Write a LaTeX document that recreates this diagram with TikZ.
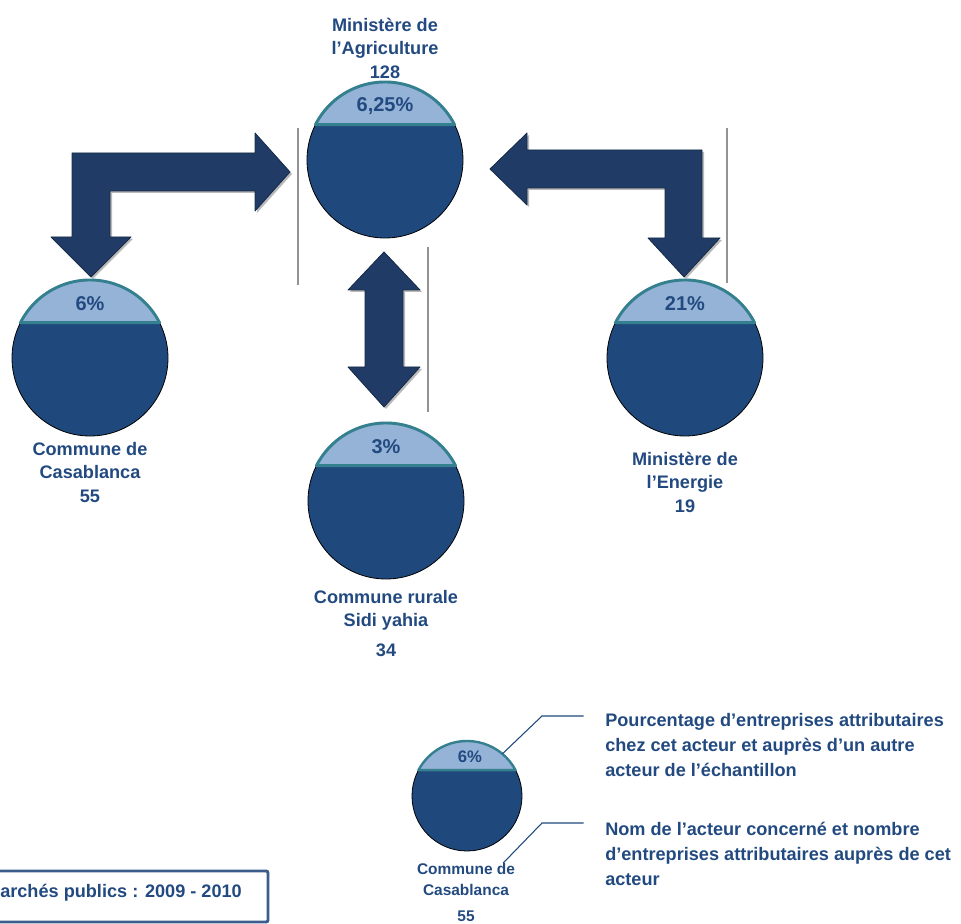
\documentclass[tikz,border=0pt]{standalone}
\usepackage{fontspec}
\setmainfont{Liberation Sans}
\usetikzlibrary{shadows}
\definecolor{bleufonce}{RGB}{31,73,125}
\definecolor{bleuclair}{RGB}{149,179,215}
\definecolor{sarcelle}{RGB}{52,128,142}
\definecolor{marine}{RGB}{32,60,102}
\definecolor{texte}{RGB}{34,74,128}
\definecolor{cadrebleu}{RGB}{60,92,140}
\begin{document}
\begin{tikzpicture}[x=0.75pt,y=0.75pt]
  \tikzstyle{disque}=[circle, draw=black, line width=0.6pt, fill=bleufonce,
  outer sep=0pt, inner sep=0pt, minimum size=117pt]
  \tikzstyle{calotte}=[fill=bleuclair, draw=sarcelle, line width=2.2pt, line join=round]
  \tikzstyle{pourcent}=[font=\bfseries\fontsize{15}{18}\selectfont, text=texte, inner sep=0pt]
  \tikzstyle{etiquette}=[font=\bfseries\fontsize{13.6}{17.5}\selectfont, text=texte,
  align=center, inner sep=0pt, anchor=north]
  \tikzstyle{legende}=[font=\bfseries\fontsize{13.6}{18.75}\selectfont, text=texte,
  align=left, inner sep=0pt, anchor=north west]
  \tikzstyle{fleche3d}=[fill=marine, draw=marine!70!black, line width=0.6pt, line join=round,
  drop shadow={opacity=0.55, shadow xshift=1.5pt, shadow yshift=-1.5pt}]
  \tikzstyle{separateur}=[draw=gray!85, line width=1.1pt]
  \tikzstyle{renvoi}=[draw=bleufonce, line width=0.8pt]
  \useasboundingbox (0,0) rectangle (961,924);

  % grandes fleches
  \fill[fleche3d] (72,771) -- (255,771) -- (255,791) -- (290,752) -- (255,713) -- (255,733)
  -- (110,733) -- (110,687) -- (131,687) -- (91,647) -- (51,687) -- (72,687) -- cycle;
  \fill[fleche3d] (490,755) -- (527,791) -- (527,774) -- (702,774) -- (702,686) -- (720,686)
  -- (684,647) -- (648,686) -- (665,686) -- (665,736) -- (527,736) -- (527,719) -- cycle;
  \fill[fleche3d] (384,672) -- (420,634) -- (403,634) -- (403,557) -- (420,557) -- (384,517)
  -- (348,557) -- (365,557) -- (365,634) -- (348,634) -- cycle;
  \foreach \x/\a/\b in {298/796/639, 727/796/641, 428/677/512} {
    \draw[separateur] (\x,\a) -- (\x,\b);
  }

  % acteurs
  \foreach \n/\x/\y/\p in {agri/385/764/{6,25\%},casa/90/566/6\%,ener/685/566/21\%,sidi/386/423/3\%} {
    \draw (\x,\y) node[disque] (\n) {};
    \draw[calotte] (\n.27) arc[start angle=27, end angle=153, radius=58.5pt] -- cycle;
    \draw (\x,\y+54) node[pourcent] (\n-p) {\p};
  }
  \draw (385,906) node[etiquette] (agri-nom) {Ministère de\\l’Agriculture\\128};
  \draw (90,482) node[etiquette] (casa-nom) {Commune de\\Casablanca\\55};
  \draw (685,472) node[etiquette] (ener-nom) {Ministère de\\l’Energie\\19};
  \draw (386,334) node[etiquette] (sidi-nom) {Commune rurale\\Sidi yahia\\[5pt]34};

  % legende
  \draw (467,128) node[disque, minimum size=82.5pt] (leg) {};
  \draw[calotte, line width=1.8pt] (leg.28) arc[start angle=28, end angle=152, radius=41.25pt] -- cycle;
  \draw (470,167) node[pourcent, font=\bfseries\fontsize{12.5}{15}\selectfont] (leg-p) {6\%};
  \draw (466,61) node[etiquette, font=\bfseries\fontsize{11.6}{15.75}\selectfont] (leg-nom)
  {Commune de\\Casablanca\\[4pt]55};
  \draw (605,211) node[legende] (txt-pct) {Pourcentage d’entreprises attributaires\\chez cet
  acteur et auprès d’un autre\\acteur de l’échantillon};
  \draw (605,102) node[legende] (txt-nom) {Nom de l’acteur concerné et nombre\\d’entreprises
  attributaires auprès de cet\\acteur};
  \coordinate (coude1) at (542,208);
  \coordinate (coude2) at (542,101);
  \draw[renvoi] (leg.50) -- (coude1) -- ([xshift=-16pt]txt-pct.north west |- coude1);
  \draw[renvoi] ([xshift=-9pt]leg-nom.north east) -- (coude2) -- ([xshift=-16pt]txt-nom.north west |- coude2);

  % periode
  \draw[draw=cadrebleu, line width=2.2pt, rounded corners=1.5pt] (-8,2) rectangle (268,53);
  \draw (0,26) node[anchor=base west, inner sep=0pt, text=texte,
  font=\bfseries\fontsize{13.6}{16}\selectfont] (periode) {archés publics : 2009 - 2010};
\end{tikzpicture}
\end{document}
